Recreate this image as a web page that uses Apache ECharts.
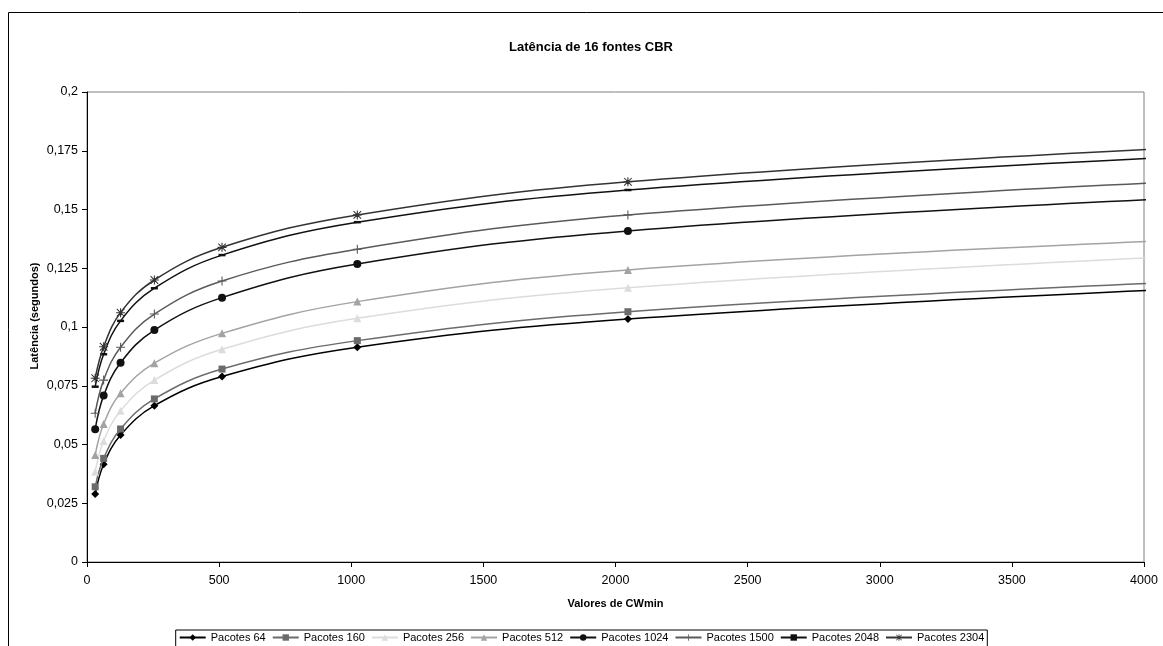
<!DOCTYPE html>
<html>
<head>
<meta charset="utf-8">
<script src="https://cdn.jsdelivr.net/npm/echarts@6/dist/echarts.min.js"></script>
<style>
html,body{margin:0;padding:0;background:#fff;}
#chart{width:1163px;height:646px;}
</style>
</head>
<body>
<div id="chart"></div>
<script>
const titleText = 'Latência de 16 fontes CBR';
const xAxisName = 'Valores de CWmin';
const yAxisName = 'Latência (segundos)';
const seriesNames = ['Pacotes 64','Pacotes 160','Pacotes 256','Pacotes 512','Pacotes 1024','Pacotes 1500','Pacotes 2048','Pacotes 2304'];
const cwmin = [31, 63, 127, 255, 511, 1023, 2047, 4095];
const p64   = [0.0289, 0.0416, 0.0540, 0.0665, 0.0789, 0.0914, 0.1034, 0.1160];
const p160  = [0.0320, 0.0441, 0.0566, 0.0694, 0.0821, 0.0942, 0.1065, 0.1189];
const p256  = [0.0384, 0.0515, 0.0644, 0.0774, 0.0905, 0.1037, 0.1167, 0.1298];
const p512  = [0.0455, 0.0587, 0.0718, 0.0846, 0.0973, 0.1108, 0.1243, 0.1368];
const p1024 = [0.0565, 0.0708, 0.0848, 0.0987, 0.1125, 0.1268, 0.1409, 0.1546];
const p1500 = [0.0633, 0.0774, 0.0914, 0.1055, 0.1196, 0.1331, 0.1477, 0.1616];
const p2048 = [0.0746, 0.0884, 0.1026, 0.1165, 0.1306, 0.1446, 0.1583, 0.1722];
const p2304 = [0.0782, 0.0916, 0.1061, 0.1200, 0.1339, 0.1477, 0.1618, 0.1760];
const allValues = [p64, p160, p256, p512, p1024, p1500, p2048, p2304];

const styles = [
  {color:'#000000', symbol:'diamond', size:8},
  {color:'#6b6b6b', symbol:'rect', size:7},
  {color:'#dcdcdc', symbol:'triangle', size:8},
  {color:'#a3a3a3', symbol:'triangle', size:8},
  {color:'#111111', symbol:'circle', size:8},
  {color:'#5a5a5a', symbol:'path://M4.4,0h1.2v4.4h4.4v1.2h-4.4v4.4h-1.2v-4.4h-4.4v-1.2h4.4z', size:9},
  {color:'#111111', symbol:'rect', size:[7,2.5]},
  {color:'#333333', symbol:'path://M4.4,0h1.2v4.4h4.4v1.2h-4.4v4.4h-1.2v-4.4h-4.4v-1.2h4.4zM1.2,0.4L5,4.2L8.8,0.4L9.6,1.2L5.8,5L9.6,8.8L8.8,9.6L5,5.8L1.2,9.6L0.4,8.8L4.2,5L0.4,1.2z', size:9}
];

const series = seriesNames.map((name, i) => ({
  name: name,
  type: 'line',
  smooth: 0.4,
  clip: true,
  data: cwmin.map((x, j) => [x, allValues[i][j]]),
  symbol: styles[i].symbol,
  symbolSize: styles[i].size,
  showSymbol: true,
  lineStyle: {color: styles[i].color, width: 1.5},
  itemStyle: {color: styles[i].color, borderWidth: 0},
  emphasis: {disabled: true},
  z: 2 + i
}));

const chart = echarts.init(document.getElementById('chart'), null, {renderer:'canvas'});
const fontFam = 'Liberation Sans, Arial, sans-serif';
chart.setOption({
  animation: false,
  backgroundColor: '#ffffff',
  textStyle: {fontFamily: fontFam},
  grid: {left: 87, right: 19, top: 92, bottom: 84, show: true, borderColor: '#808080', borderWidth: 1, backgroundColor: 'transparent'},
  xAxis: {
    type: 'value', min: 0, max: 4000, interval: 500,
    name: xAxisName, nameLocation: 'middle', nameGap: 36,
    nameTextStyle: {fontFamily: fontFam, fontSize: 11, fontWeight: 'bold', color: '#000'},
    axisLine: {show: true, onZero: false, lineStyle: {color: '#000', width: 1}},
    axisTick: {show: true, inside: false, length: 5, lineStyle: {color: '#000'}},
    axisLabel: {fontFamily: fontFam, fontSize: 12.5, color: '#000', margin: 12,
      formatter: v => String(v)},
    splitLine: {show: false}
  },
  yAxis: {
    type: 'value', min: 0, max: 0.2, interval: 0.025,
    name: '', 
    axisLine: {show: true, onZero: false, lineStyle: {color: '#000', width: 1}},
    axisTick: {show: true, inside: false, length: 5, lineStyle: {color: '#000'}},
    axisLabel: {fontFamily: fontFam, fontSize: 12.5, color: '#000', margin: 9,
      formatter: v => String(Number(v.toFixed(3))).replace('.', ',')},
    splitLine: {show: false}
  },
  legend: {
    data: seriesNames,
    left: 'center', top: 630,
    itemWidth: 26, itemHeight: 8, itemGap: 6,
    padding: [2, 3, 10, 3],
    borderColor: '#000', borderWidth: 1,
    textStyle: {fontFamily: fontFam, fontSize: 11, color: '#000'},
    selectedMode: false
  },
  graphic: [
    {type: 'rect', shape: {x: 8.5, y: 12.5, width: 1200, height: 700}, style: {fill: 'none', stroke: '#000', lineWidth: 1}, silent: true, z: -1},
    {type: 'text', x: 591, y: 47, style: {text: titleText, textAlign: 'center', textVerticalAlign: 'middle', font: 'bold 13px ' + fontFam, fill: '#000'}, silent: true},
    {type: 'text', x: 35, y: 316, rotation: Math.PI / 2, style: {text: yAxisName, textAlign: 'center', textVerticalAlign: 'middle', font: 'bold 11px ' + fontFam, fill: '#000'}, silent: true}
  ],
  series: series
});
</script>
</body>
</html>
